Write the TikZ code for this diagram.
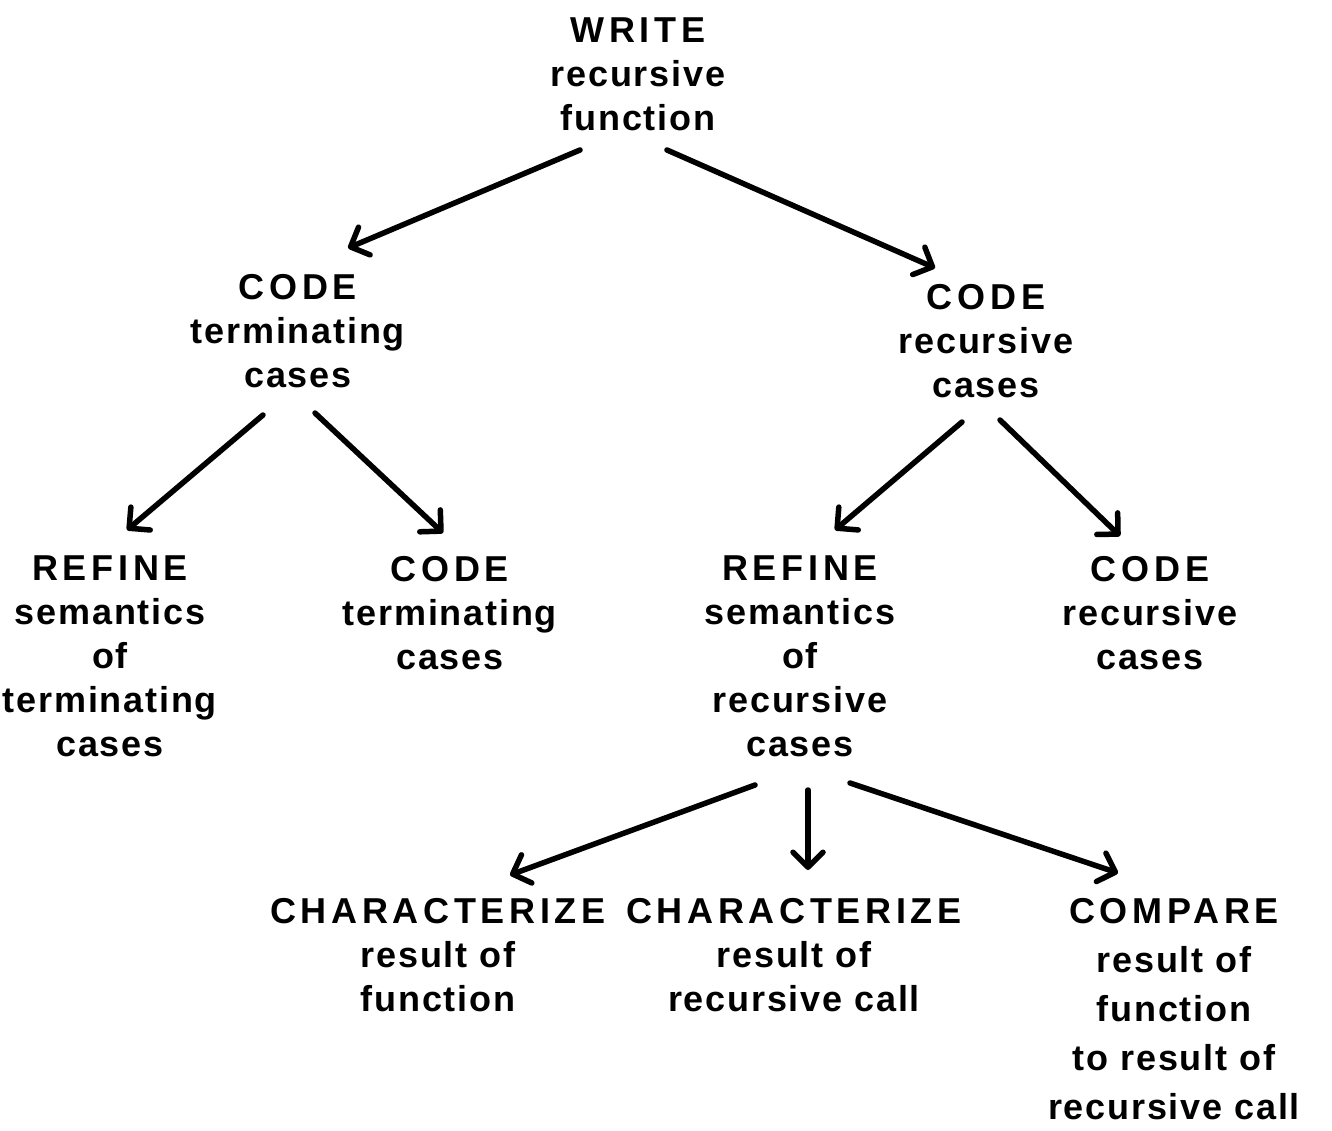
\documentclass[tikz,border=0pt]{standalone}
\usepackage{fontspec}
\setmainfont{Liberation Sans}[LetterSpace=5]
\newfontfamily\capsfont{Liberation Sans}[LetterSpace=13]
\usetikzlibrary{arrows.meta,calc}
\newcommand\hd[1]{{\capsfont\bfseries #1}}
\tikzset{
  goal/.style={anchor=north, align=center, inner sep=0pt,
    font=\fontsize{36}{44}\selectfont\bfseries},
  goaltall/.style={goal, font=\fontsize{36}{49}\selectfont\bfseries},
  arr/.style={line width=5.5pt, line cap=round,
    -{Straight Barb[length=15pt,width=30pt,line width=5.5pt,round]}}
}
\begin{document}
\begin{tikzpicture}[x=1pt,y=-1pt]
\useasboundingbox (0,0) rectangle (1332,1131);

% goal tree
\node[goal] (w)   at (638,18)  {\hd{WRITE}\\recursive\\function};
\node[goal] (ct)  at (298,274) {\hd{CODE}\\terminating\\cases};
\node[goal] (cr)  at (986,284) {\hd{CODE}\\recursive\\cases};
\node[goal] (rt)  at (110,556) {\hd{REFINE}\\semantics\\of\\terminating\\cases};
\node[goal] (ct2) at (450,556) {\hd{CODE}\\terminating\\cases};
\node[goal] (rr)  at (800,556) {\hd{REFINE}\\semantics\\of\\recursive\\cases};
\node[goal] (cr2) at (1150,556) {\hd{CODE}\\recursive\\cases};
\node[goal] (ch1) at (438,898) {\hd{CHARACTERIZE}\\result of\\function};
\node[goal] (ch2) at (794,898) {\hd{CHARACTERIZE}\\result of\\recursive call};
\node[goaltall] (cmp) at (1174,898) {\hd{COMPARE}\\result of\\function\\to result of\\recursive call};

% subgoal arrows
\draw[arr] ($(w.north)+(-58,132)$) -- ($(ct.north)+(50,-26)$);
\draw[arr] ($(w.north)+(29,132)$) -- ($(cr.north)+(-51,-16)$);
\draw[arr] ($(ct.north)+(-35,141)$) -- ($(rt.north)+(17,-26)$);
\draw[arr] ($(ct.north)+(17,139)$) -- ($(ct2.north)+(-7,-23)$);
\draw[arr] ($(cr.north)+(-24,138)$) -- ($(rr.north)+(35,-26)$);
\draw[arr] ($(cr.north)+(14,136)$) -- ($(cr2.north)+(-30,-20)$);
\draw[arr] ($(rr.north)+(-45,229)$) -- ($(ch1.north)+(72,-23)$);
\draw[arr] ($(rr.north)+(8,234)$) -- ($(ch2.north)+(14,-28)$);
\draw[arr] ($(rr.north)+(50,227)$) -- ($(cmp.north)+(-56,-25)$);
\end{tikzpicture}
\end{document}
